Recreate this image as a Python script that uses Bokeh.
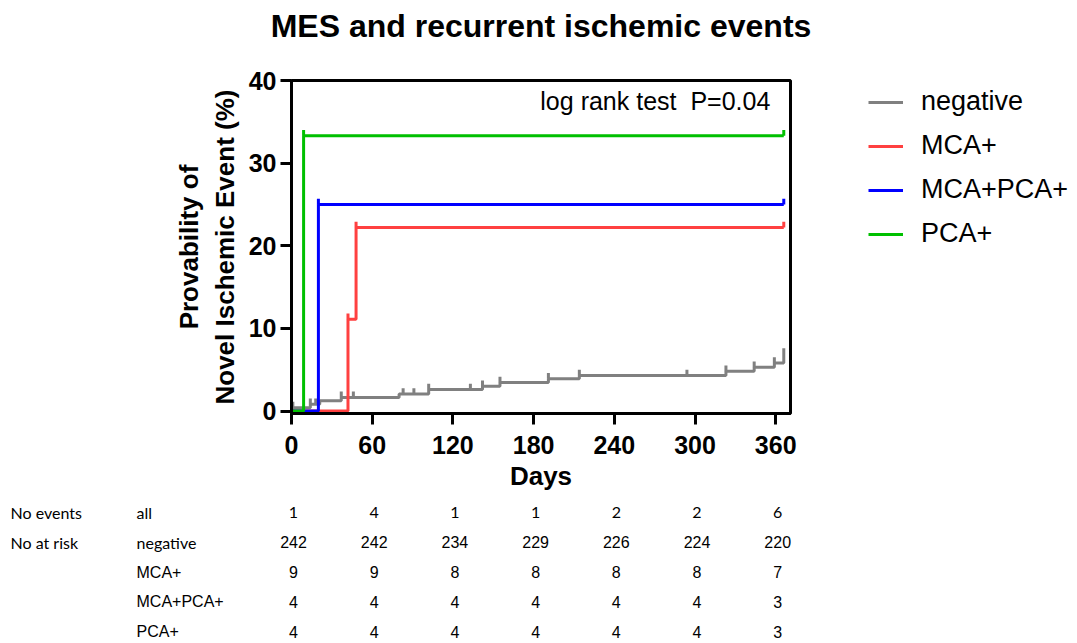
from bokeh.plotting import figure
from bokeh.models import Range1d, Legend, LegendItem, Label, FixedTicker
from bokeh.layouts import row, column
from bokeh.core.properties import value
from bokeh.embed import file_html
from bokeh.resources import INLINE

# ---------------- data ----------------
series_names = ["negative", "MCA+", "MCA+PCA+", "PCA+"]
series_colors = ["#808080", "#FF4040", "#0000FF", "#00C000"]

neg_t = [0, 1, 14, 21, 37, 80, 102, 142, 155, 191, 214, 323, 344, 359, 366]
neg_v = [0, 0.41, 0.83, 1.24, 1.65, 2.07, 2.6, 3.0, 3.45, 3.9, 4.3, 4.8, 5.3, 5.8, 6.9]
neg_cens = [1, 14, 18, 37, 46, 83, 91, 102, 133, 142, 155, 191, 214, 294, 323, 344, 359, 366]

mca_t = [0, 42, 48, 366]
mca_v = [0, 11.1, 22.2, 22.2]
mca_cens = [42, 48, 366]

mcapca_t = [0, 20, 366]
mcapca_v = [0, 25.0, 25.0]
mcapca_cens = [20, 366]

pca_t = [0, 9, 366]
pca_v = [0, 33.3, 33.3]
pca_cens = [9, 366]

x_ticks = [0, 60, 120, 180, 240, 300, 360]
y_ticks = [0, 10, 20, 30, 40]

table_cols = [0, 60, 120, 180, 240, 300, 360]
events_all = ["1", "4", "1", "1", "2", "2", "6"]
risk_negative = ["242", "242", "234", "229", "226", "224", "220"]
risk_mca = ["9", "9", "8", "8", "8", "8", "7"]
risk_mcapca = ["4", "4", "4", "4", "4", "4", "3"]
risk_pca = ["4", "4", "4", "4", "4", "4", "3"]
row_names = ["all", "negative", "MCA+", "MCA+PCA+", "PCA+"]
group_names = ["No events", "No at risk"]

# ---------------- geometry (page pixels) ----------------
PAGE_W = 1077
TITLE_H = 60
MAIN_H = 435
TABLE_H = 148
MAIN_W = 800
FL, FR = 291, 790           # frame left / right
FT, FB = 80, 413            # frame top / bottom
X_MAX = 371
S = (FR - FL) / X_MAX       # px per day

# ---------------- title ----------------
tt = figure(width=PAGE_W, height=TITLE_H, output_backend="svg", toolbar_location=None,
            x_axis_location=None, y_axis_location=None, title=None,
            x_range=Range1d(0, 1), y_range=Range1d(0, 1),
            min_border_left=0, min_border_right=0, min_border_top=0, min_border_bottom=0)
tt.outline_line_color = None
tt.grid.visible = False
tt.add_layout(Label(x=(FL + FR) / 2, y=TITLE_H - 25, x_units="screen", y_units="screen",
                    text="MES and recurrent ischemic events", text_align="center",
                    text_baseline="middle", text_font="Liberation Sans",
                    text_font_style="bold", text_font_size="32px", text_color="black"))

# ---------------- main figure ----------------
p = figure(width=MAIN_W, height=MAIN_H, output_backend="svg", toolbar_location=None,
           title=None, x_range=Range1d(0, X_MAX), y_range=Range1d(-0.3, 40),
           min_border_left=FL, min_border_right=MAIN_W - FR,
           min_border_top=FT - TITLE_H, min_border_bottom=TITLE_H + MAIN_H - FB)
p.background_fill_color = "white"
p.border_fill_color = "white"
p.outline_line_color = "black"
p.outline_line_width = 3
p.xgrid.visible = False
p.ygrid.visible = False

for ax in (p.xaxis[0], p.yaxis[0]):
    ax.axis_line_width = 3
    ax.axis_line_color = "black"
    ax.major_tick_line_width = 3
    ax.major_tick_line_color = "black"
    ax.major_tick_out = 11
    ax.major_tick_in = 0
    ax.minor_tick_line_color = None
    ax.major_label_text_font = "Liberation Sans"
    ax.major_label_text_font_style = "bold"
    ax.major_label_text_font_size = "25px"
    ax.major_label_text_color = "black"
    ax.axis_label_text_font = "Liberation Sans"
    ax.axis_label_text_font_style = "bold"
    ax.axis_label_text_font_size = "26px"
    ax.axis_label_text_color = "black"

p.xaxis.ticker = FixedTicker(ticks=x_ticks)
p.yaxis.ticker = FixedTicker(ticks=y_ticks)
p.xaxis.axis_label = "Days"
p.yaxis.axis_label = "Provability of\nNovel Ischemic Event (%)"
p.xaxis.major_label_standoff = 11
p.xaxis.axis_label_standoff = 4
p.yaxis.major_label_standoff = 4
p.yaxis.axis_label_standoff = 6


def level_at(ts, vs, t):
    v = vs[0]
    for ti, vi in zip(ts, vs):
        if ti <= t:
            v = vi
    return v


TICK_H = 0.7
all_series = [
    (neg_t, neg_v, neg_cens),
    (mca_t, mca_v, mca_cens),
    (mcapca_t, mcapca_v, mcapca_cens),
    (pca_t, pca_v, pca_cens),
]
for (ts, vs, cens), name, col in zip(all_series, series_names, series_colors):
    p.step(ts, vs, mode="after", line_color=col, line_width=3)
    ys = [level_at(ts, vs, c) for c in cens]
    p.segment(x0=cens, x1=cens, y0=ys, y1=[y + TICK_H for y in ys],
              line_color=col, line_width=3)

p.add_layout(Label(x=356, y=37.5, text="log rank test\u00a0\u00a0P=0.04", text_align="right",
                   text_baseline="middle", text_font="Liberation Sans",
                   text_font_size="25px", text_color="black"))

# ---------------- legend panel ----------------
LW = PAGE_W - MAIN_W
LEG_X = 868
LEG_MARGIN = 6
lp = figure(width=LW, height=MAIN_H, output_backend="svg", toolbar_location=None,
            x_axis_location=None, y_axis_location=None, title=None,
            x_range=Range1d(10, 11), y_range=Range1d(10, 11),
            min_border_left=(LEG_X - MAIN_W) - LEG_MARGIN, min_border_right=0,
            min_border_top=0, min_border_bottom=0)
lp.grid.visible = False
lp.outline_line_color = None
lp.background_fill_color = "white"
lp.border_fill_color = "white"
items = []
for name, col in zip(series_names, series_colors):
    r = lp.line([0, 1], [0, 0], line_color=col, line_width=3)
    items.append(LegendItem(label=name, renderers=[r]))
legend = Legend(items=items, location="top_left", orientation="vertical")
legend.border_line_color = None
legend.background_fill_alpha = 0
legend.padding = 0
legend.margin = LEG_MARGIN
legend.spacing = 13
legend.glyph_width = 35
legend.glyph_height = 30
legend.label_height = 30
legend.label_standoff = 18
legend.label_text_font = "Liberation Sans"
legend.label_text_font_size = "27px"
legend.label_text_color = "black"
lp.add_layout(legend, "center")

# ---------------- number-at-risk table ----------------
TABLE_TOP = TITLE_H + MAIN_H
row_page_y = [512, 542, 572, 602, 631]
r0 = row_page_y[0] - TABLE_TOP
pitch = (row_page_y[-1] - row_page_y[0]) / (len(row_page_y) - 1)
tf = figure(width=PAGE_W, height=TABLE_H, output_backend="svg", toolbar_location=None,
            x_axis_location=None, y_axis_location=None, title=None,
            x_range=Range1d(-FL / S, (PAGE_W - FL) / S),
            y_range=Range1d((TABLE_H - r0) / pitch, -r0 / pitch),
            min_border_left=0, min_border_right=0, min_border_top=0, min_border_bottom=0)
tf.grid.visible = False
tf.outline_line_color = None
tf.background_fill_color = "white"
tf.border_fill_color = "white"


def day_at(px):
    return (px - FL) / S


rows = [events_all, risk_negative, risk_mca, risk_mcapca, risk_pca]
row_fonts = ["Lato", "Liberation Sans", "Liberation Sans", "Liberation Sans", "Liberation Sans"]
name_fonts = ["Lato", "Lato", "Liberation Sans", "Liberation Sans", "Liberation Sans"]
COL_SHIFT = 2 / S
for i, (vals, font) in enumerate(zip(rows, row_fonts)):
    tf.text(x=[c + COL_SHIFT for c in table_cols], y=[i] * len(vals), text=vals,
            text_align="center", text_baseline="middle", text_font=value(font),
            text_font_size="16px", text_color="black")
for i, (nm, font) in enumerate(zip(row_names, name_fonts)):
    tf.text(x=[day_at(136)], y=[i], text=[nm], text_align="left", text_baseline="middle",
            text_font=value(font), text_font_size="16px", text_color="black")
tf.text(x=[day_at(10)] * len(group_names), y=list(range(len(group_names))), text=group_names,
        text_align="left", text_baseline="middle", text_font=value("Lato"),
        text_font_size="16px", text_color="black")

layout = column(tt, row(p, lp), tf)
open("out.html", "w").write(file_html(layout, INLINE))
